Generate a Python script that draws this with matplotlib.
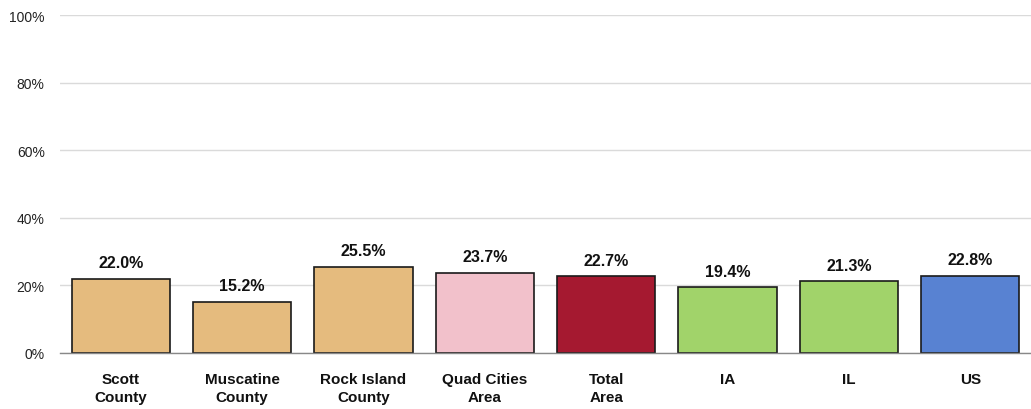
import matplotlib
matplotlib.use("Agg")
import matplotlib.pyplot as plt
from matplotlib import font_manager

categories = ["Scott\nCounty", "Muscatine\nCounty", "Rock Island\nCounty", "Quad Cities\nArea",
              "Total\nArea", "IA", "IL", "US"]
values = [22.0, 15.2, 25.5, 23.7, 22.7, 19.4, 21.3, 22.8]
colors = ["#E5BB7E", "#E5BB7E", "#E5BB7E", "#F2C1CB", "#A51930", "#A1D36A", "#A1D36A", "#5882D2"]
yticks = [0, 20, 40, 60, 80, 100]

names = {f.name for f in font_manager.fontManager.ttflist}
narrow = 'Liberation Sans Narrow' in names
fam = ['Liberation Sans Narrow', 'Liberation Sans', 'DejaVu Sans'] if narrow else ['Liberation Sans', 'DejaVu Sans']
plt.rcParams['font.family'] = fam

fig = plt.figure(figsize=(10.31, 4.10), dpi=100)
ax = fig.add_axes([60/1031, 1 - 354/410, 971/1031, (354-16)/410])

x = list(range(len(categories)))
ax.bar(x, values, width=0.81, color=colors, edgecolor="#1a1a1a", linewidth=1.2, zorder=3)
vfs = 13 if narrow else 11.5
for xi, v in zip(x, values):
    ax.text(xi, v + 2.5, f"{v:.1f}%", ha="center", va="bottom", fontsize=vfs, fontweight="bold", color="#111111")

ax.set_xlim(-0.5, len(categories) - 0.5)
ax.set_ylim(0, 100)
ax.set_yticks(yticks)
ax.set_yticklabels([f"{t}%" for t in yticks], fontsize=11 if narrow else 10, color="#222222")
ax.set_xticks(x)
ax.set_xticklabels(categories, fontsize=12.5 if narrow else 11, fontweight="bold", color="#111111", linespacing=1.28)
ax.tick_params(axis="both", length=0)
ax.tick_params(axis="y", pad=11)
ax.tick_params(axis="x", pad=14)
ax.grid(axis="y", color="#DADADA", linewidth=1.0, zorder=0)
for s in ["top", "right", "left"]:
    ax.spines[s].set_visible(False)
ax.spines["bottom"].set_color("#888888")
ax.spines["bottom"].set_linewidth(1.0)
ax.spines["bottom"].set_zorder(4)

fig.savefig("out.png", dpi=100)
